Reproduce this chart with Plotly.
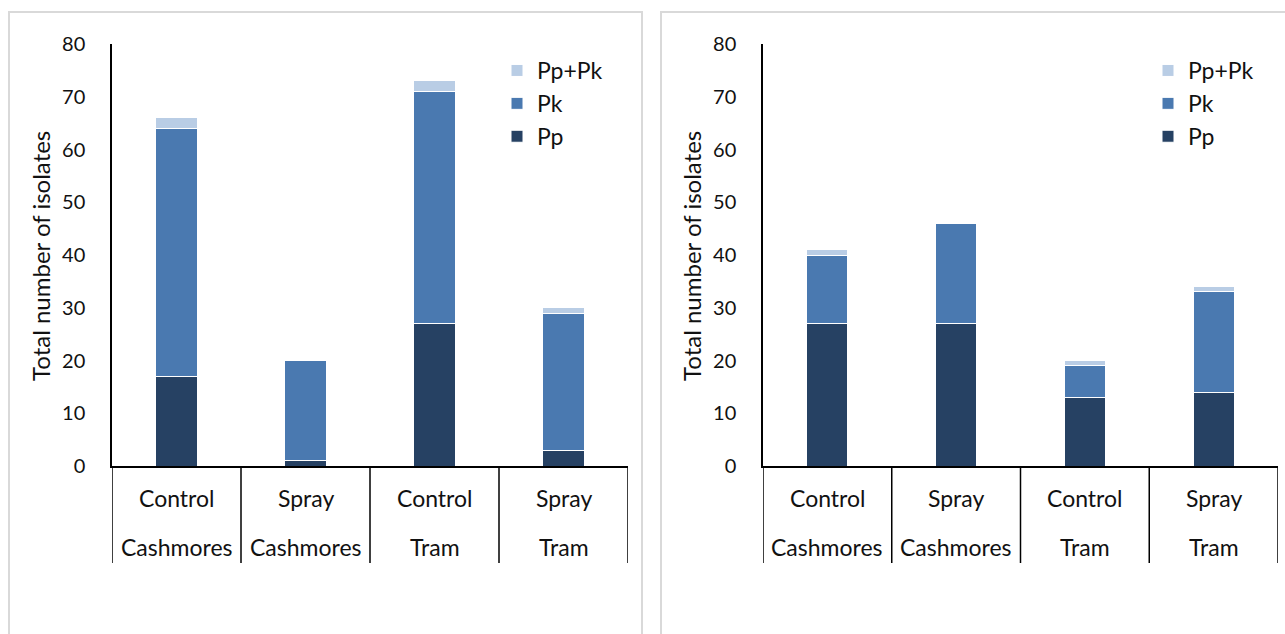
import plotly.graph_objects as go

categories = ["Control Cashmores", "Spray Cashmores", "Control Tram", "Spray Tram"]
line1 = ["Control", "Spray", "Control", "Spray"]
line2 = ["Cashmores", "Cashmores", "Tram", "Tram"]

left_pp = [17, 1, 27, 3]
left_pk = [47, 19, 44, 26]
left_pppk = [2, 0, 2, 1]

right_pp = [27, 27, 13, 14]
right_pk = [13, 19, 6, 19]
right_pppk = [1, 0, 1, 1]

series_names = ["Pp", "Pk", "Pp+Pk"]
colors = ["#264163", "#4A79B0", "#B9CDE5"]

W, H = 1285, 634
FONT = "Lato"
TXT = "#111111"

def px(v):
    return v / W

def py(v):
    return (H - v) / H

fig = go.Figure()

for vals, name, col in zip([left_pp, left_pk, left_pppk], series_names, colors):
    fig.add_trace(go.Bar(x=categories, y=vals, name=name, marker_color=col,
                         marker_line_color="white", marker_line_width=1,
                         xaxis="x", yaxis="y", legend="legend"))
for vals, name, col in zip([right_pp, right_pk, right_pppk], series_names, colors):
    fig.add_trace(go.Bar(x=categories, y=vals, name=name, marker_color=col,
                         marker_line_color="white", marker_line_width=1,
                         xaxis="x2", yaxis="y2", legend="legend2"))

ydom = [py(466), py(44)]
yaxis_common = dict(range=[0, 80], dtick=10, tick0=0, showline=True, linecolor="black",
                    linewidth=1.5, ticks="outside", ticklen=21, tickcolor="rgba(0,0,0,0)",
                    tickfont=dict(size=20, color=TXT, family=FONT), showgrid=False,
                    zeroline=False, fixedrange=True, automargin=False)
xaxis_common = dict(showline=True, linecolor="black", linewidth=1.5, showticklabels=False,
                    ticks="", showgrid=False, zeroline=False, range=[-0.5, 3.5],
                    automargin=False, fixedrange=True)

legend_common = dict(xanchor="left", yanchor="top", traceorder="reversed",
                     font=dict(size=23, family=FONT, color=TXT), bgcolor="rgba(0,0,0,0)",
                     itemwidth=30)

fig.update_layout(
    width=W, height=H, margin=dict(l=0, r=0, t=0, b=0, pad=0, autoexpand=False),
    paper_bgcolor="white", plot_bgcolor="white",
    barmode="stack", bargap=0.68,
    font=dict(family=FONT, color=TXT),
    xaxis=dict(domain=[px(112), px(628)], anchor="y", **xaxis_common),
    yaxis=dict(domain=ydom, anchor="x", **yaxis_common),
    xaxis2=dict(domain=[px(763), px(1278)], anchor="y2", **xaxis_common),
    yaxis2=dict(domain=ydom, anchor="x2", **yaxis_common),
    legend=dict(x=px(497), y=py(49), **legend_common),
    legend2=dict(x=px(1148), y=py(49), **legend_common),
    showlegend=True,
)

shapes = []
annotations = []
for xa, title_x in [("x", 40), ("x2", 691)]:
    for i in range(len(categories) + 1):
        shapes.append(dict(type="line", xref=xa, yref="paper", x0=i - 0.5, x1=i - 0.5,
                           y0=py(466), y1=py(563), line=dict(color="black", width=1.5)))
    for cat, l1, l2 in zip(categories, line1, line2):
        annotations.append(dict(x=cat, xref=xa, y=py(498), yref="paper", text=l1,
                                xanchor="center", yanchor="middle", showarrow=False,
                                font=dict(size=23, family=FONT, color=TXT)))
        annotations.append(dict(x=cat, xref=xa, y=py(547), yref="paper", text=l2,
                                xanchor="center", yanchor="middle", showarrow=False,
                                font=dict(size=23, family=FONT, color=TXT)))
    annotations.append(dict(x=px(title_x), xref="paper", y=py(256), yref="paper",
                            text="Total number of isolates", textangle=-90, showarrow=False,
                            xanchor="center", yanchor="middle",
                            font=dict(size=24, family=FONT, color=TXT)))

# panel borders
shapes.append(dict(type="rect", xref="paper", yref="paper", x0=px(9), x1=px(642), y0=py(645), y1=py(12),
                   line=dict(color="#D9D9D9", width=2), layer="below"))
shapes.append(dict(type="rect", xref="paper", yref="paper", x0=px(661), x1=px(1295), y0=py(645), y1=py(12),
                   line=dict(color="#D9D9D9", width=2), layer="below"))

fig.update_layout(shapes=shapes, annotations=annotations)
fig.write_html("out.html", config={"displayModeBar": False},
               post_script="document.body.style.margin='0';document.body.style.overflow='hidden';")
